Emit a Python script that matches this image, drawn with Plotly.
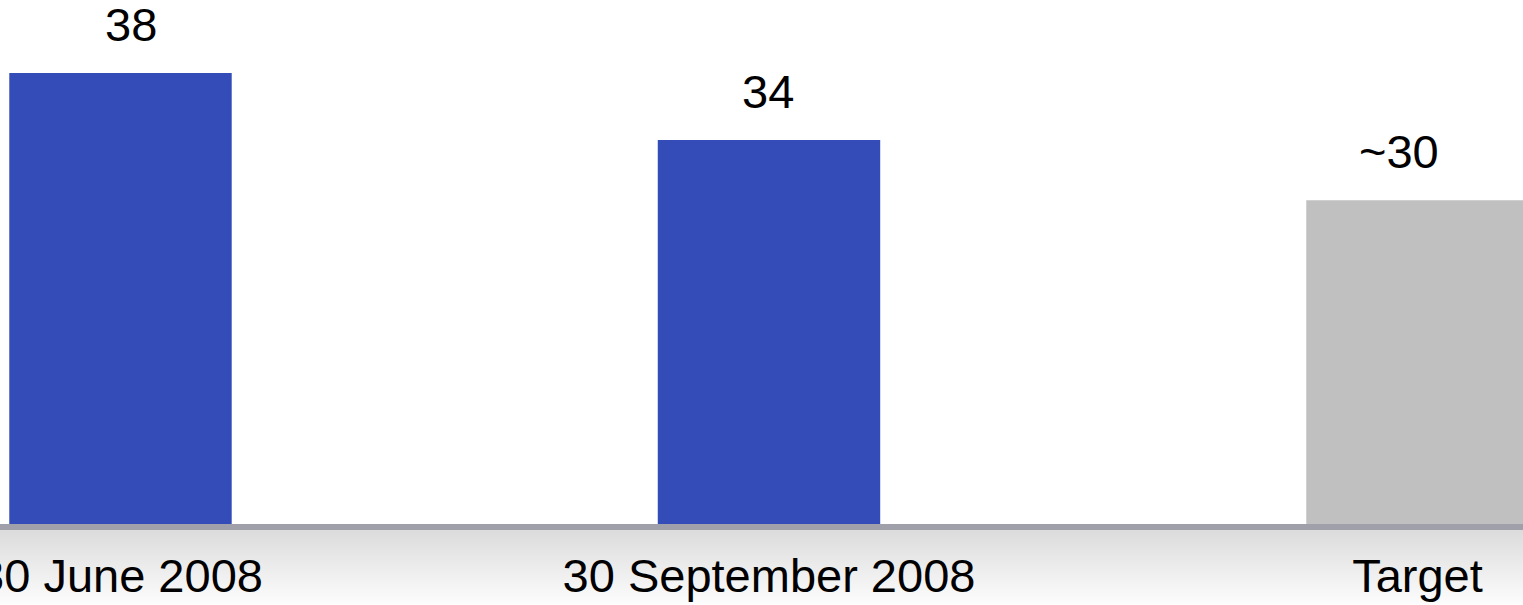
import plotly.graph_objects as go

# 数据
categories = ["30 June 2008", "30 September 2008", "Target"]
values = [38, 34, 30.4]
value_labels = ["38", "34", "~30"]
bar_colors = ["#334CB8", "#334CB8", "#C0C0C0"]

FONT = "Liberation Sans, Arial, sans-serif"
PLOT_H = 524  # 绘图区高度 (px)
label_xshift = [11, -1, -18]  # 数值标签的微调

fig = go.Figure()
fig.add_trace(go.Bar(
    x=categories,
    y=values,
    marker=dict(color=bar_colors, line=dict(width=0)),
    width=0.343,
    hoverinfo="x+y",
))

for cat, val, lab, dx in zip(categories, values, value_labels, label_xshift):
    fig.add_annotation(
        x=cat, y=val, text=lab, showarrow=False,
        yanchor="bottom", yshift=20, xshift=dx,
        font=dict(family=FONT, size=47, color="black"),
    )

# 底部基线
fig.add_shape(type="rect", xref="paper", yref="paper",
              x0=0, x1=1, y0=-6 / PLOT_H, y1=0,
              fillcolor="#A0A0AA", line=dict(width=0), layer="below")

# 底部渐变带
n = 75
for i in range(n):
    g = int(220 + (253 - 220) * i / (n - 1))
    fig.add_shape(type="rect", xref="paper", yref="paper",
                  x0=0, x1=1,
                  y0=-(6 + i + 1.5) / PLOT_H, y1=-(6 + i) / PLOT_H,
                  fillcolor=f"rgb({g},{g},{g})", line=dict(width=0),
                  layer="below")

fig.update_layout(
    width=1523,
    height=605,
    margin=dict(l=0, r=0, t=0, b=605 - PLOT_H),
    paper_bgcolor="white",
    plot_bgcolor="rgba(0,0,0,0)",
    showlegend=False,
    font=dict(family=FONT, color="black"),
    xaxis=dict(
        range=[-0.1858, 2.1627],
        showgrid=False, zeroline=False, showline=False,
        ticks="", tickfont=dict(family=FONT, size=47, color="black"),
        ticklabelstandoff=20,
        automargin=False,
    ),
    yaxis=dict(
        range=[11.07, 42.36],
        visible=False, showgrid=False, zeroline=False,
        automargin=False,
    ),
)

fig.write_html(
    "out.html",
    config={"displayModeBar": False},
    post_script="document.body.style.margin='0';",
)
